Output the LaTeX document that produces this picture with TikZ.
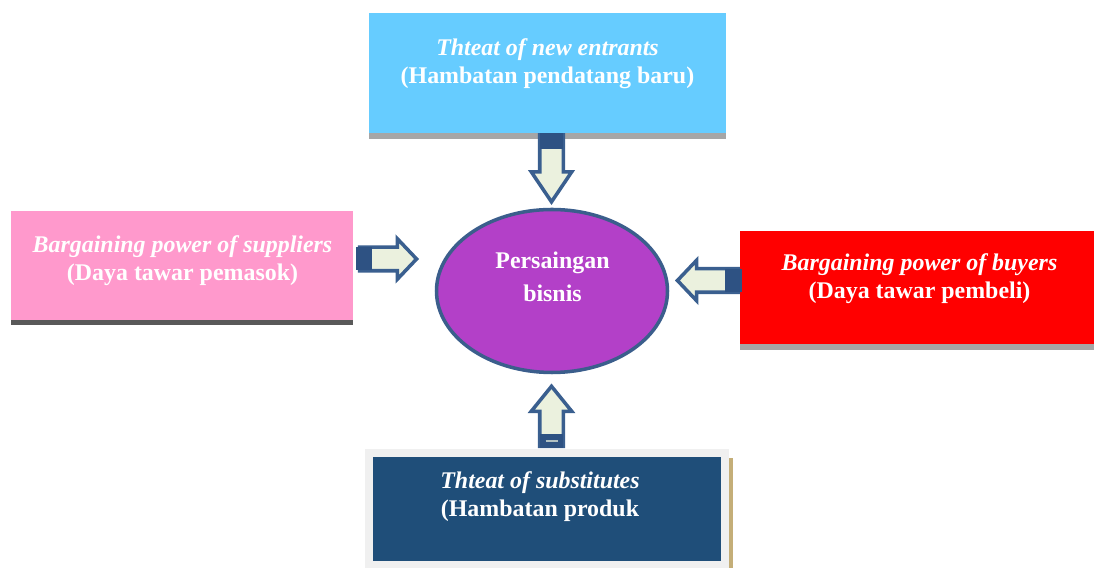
\documentclass[tikz,border=0pt]{standalone}
\usepackage{fontspec}
\setmainfont{Liberation Serif}
\usetikzlibrary{shapes.geometric, shapes.arrows}

\newlength\unitpx
\setlength\unitpx{0.025cm}

\definecolor{skyblue}{HTML}{66CCFF}
\definecolor{pinkbox}{HTML}{FF99CC}
\definecolor{redbox}{HTML}{FF0000}
\definecolor{navybox}{HTML}{1F4E79}
\definecolor{framegray}{HTML}{F0F0F0}
\definecolor{tanline}{HTML}{C4AE78}
\definecolor{bargray}{HTML}{A6A6A6}
\definecolor{bardark}{HTML}{595959}
\definecolor{violetfill}{HTML}{B340C8}
\definecolor{ringblue}{HTML}{3B5E8C}
\definecolor{arrowline}{HTML}{3A5F8F}
\definecolor{arrowfill}{HTML}{EBF1DE}
\definecolor{tailblue}{HTML}{2E5283}

\begin{document}
\begin{tikzpicture}[
    , x = 0.025cm
    , y = -0.025cm
    , box/.style = {
      , rectangle
      , inner sep = 0pt
    }
    , lbl/.style = {
      , text = white
      , align = center
      , font = \fontsize{17}{20}\selectfont\bfseries
    }
    , barrow/.style = {
      , single arrow
      , anchor = tip
      , draw = arrowline
      , fill = arrowfill
      , line width = 2.5pt
      , inner xsep = 0pt
      , inner ysep = 10\unitpx
      , minimum width = 37\unitpx
      , single arrow head extend = 8.5\unitpx
    }
  ]
    \useasboundingbox (0,0) rectangle (1094,569);

    % the four forces
    \node (entrants) [box, fill = skyblue, minimum width = 357\unitpx, minimum height = 120\unitpx] at (547.5,73) {};
    \fill [bargray] (entrants.south west) rectangle ([yshift=-6\unitpx]entrants.south east);
    \node (suppliers) [box, fill = pinkbox, minimum width = 342\unitpx, minimum height = 109\unitpx] at (182,265.5) {};
    \fill [bardark] (suppliers.south west) rectangle ([yshift=-5\unitpx]suppliers.south east);
    \node (buyers) [box, fill = redbox, minimum width = 354\unitpx, minimum height = 113\unitpx] at (917,287.5) {};
    \fill [bargray] (buyers.south west) rectangle ([yshift=-6\unitpx]buyers.south east);
    \node (subst-frame) [box, fill = framegray, minimum width = 364\unitpx, minimum height = 119\unitpx] at (547,508.5) {};
    \fill [tanline] ([yshift=-9\unitpx]subst-frame.north east) rectangle ([xshift=4\unitpx]subst-frame.south east);
    \node (subst) [box, fill = navybox, minimum width = 348\unitpx, minimum height = 104\unitpx] at (547,509) {};

    \node (entrants-txt) [lbl] at (547.5,64) {\textit{Thteat of new entrants}\\(Hambatan pendatang baru)};
    \node (suppliers-txt) [lbl] at (182.5,261) {\textit{Bargaining power of suppliers}\\(Daya tawar pemasok)};
    \node (buyers-txt) [lbl] at (919.5,279) {\textit{Bargaining power of buyers}\\(Daya tawar pembeli)};
    \node (subst-txt) [lbl] at (540,496.5) {\textit{Thteat of substitutes}\\(Hambatan produk};

    % centre
    \node (rivalry) [ellipse, draw = ringblue, line width = 2.5pt, fill = violetfill, minimum width = 231\unitpx, minimum height = 163\unitpx] at (552,291) {};
    \node (rivalry-txt) [lbl, font = \fontsize{17}{23.5}\selectfont\bfseries] at (552.5,276.5) {Persaingan\\bisnis};

    % block arrows
    \node (arrT) [barrow, rotate = -90, minimum height = 67\unitpx, single arrow tip angle = 68] at (551.5,205) {};
    \fill [tailblue] ([xshift=-11.5\unitpx]arrT.tail) rectangle ([xshift=11.5\unitpx, yshift=-16\unitpx]arrT.tail);
    \node (arrL) [barrow, minimum height = 57\unitpx, single arrow tip angle = 93] at (419,259) {};
    \fill [tailblue] ([xshift=-1.5\unitpx, yshift=11.5\unitpx]arrL.tail) rectangle ([xshift=14\unitpx, yshift=-11.5\unitpx]arrL.tail);
    \node (arrR) [barrow, rotate = 180, minimum height = 61\unitpx, single arrow tip angle = 93] at (675,280.5) {};
    \fill [tailblue] ([xshift=-15\unitpx, yshift=11.5\unitpx]arrR.tail) rectangle ([xshift=1.5\unitpx, yshift=-11.5\unitpx]arrR.tail);
    \node (arrB) [barrow, rotate = 90, minimum height = 60\unitpx, single arrow tip angle = 78] at (551.5,383.5) {};
    \fill [tailblue] ([xshift=-11.5\unitpx]arrB.tail) rectangle ([xshift=11.5\unitpx, yshift=14\unitpx]arrB.tail);
    \draw [arrowfill!70!tailblue, line width = 1pt] ([xshift=-6\unitpx, yshift=7\unitpx]arrB.tail) -- ([xshift=6\unitpx, yshift=7\unitpx]arrB.tail);
  \end{tikzpicture}
\end{document}
